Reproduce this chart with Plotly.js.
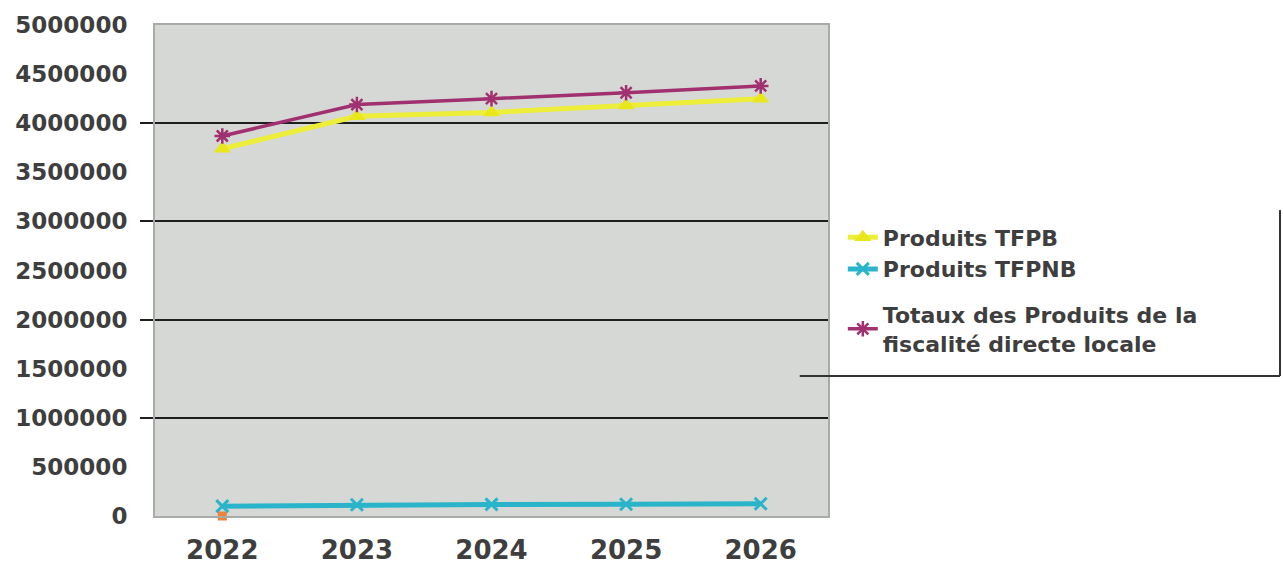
<!DOCTYPE html>
<html>
<head>
<meta charset="utf-8">
<script src="https://cdn.plot.ly/plotly-3.0.1.min.js"></script>
<style>
  html, body { margin: 0; padding: 0; background: #ffffff; }
  #chart { width: 1283px; height: 567px; }
</style>
</head>
<body>
<div id="chart"></div>
<script>
// Années
const years = ['2022', '2023', '2024', '2025', '2026'];

// Produits de la fiscalité directe locale (en euros)
const produitsTFPB = [3740000, 4070000, 4110000, 4180000, 4250000];
const produitsTFPNB = [100000, 115000, 118000, 120000, 125000];
const totauxProduits = [3870000, 4190000, 4250000, 4310000, 4380000];
const serieOrange = [0, null, null, null, null];

// Graduations de l'axe vertical
const yLabelVals = [0, 500000, 1000000, 1500000, 2000000, 2500000, 3000000, 3500000, 4000000, 4500000, 5000000];
const yGridVals = [1000000, 2000000, 3000000, 4000000];

const FONT = 'DejaVu Sans';
const TXT = '#3e3e3e';

const traces = [
  {
    x: years, y: serieOrange, name: '', yaxis: 'y', showlegend: false,
    type: 'scatter', mode: 'markers', cliponaxis: false,
    marker: { symbol: 'square', size: 9, color: '#f0803c' }
  },
  {
    x: years, y: produitsTFPB, name: 'Produits TFPB', yaxis: 'y2', legendgroup: 'a',
    type: 'scatter', mode: 'lines+markers',
    line: { color: '#ecee3a', width: 5 },
    marker: { symbol: 'triangle-up', size: 15, color: '#e9e61c' }
  },
  {
    x: years, y: produitsTFPNB, name: 'Produits TFPNB', yaxis: 'y2', legendgroup: 'a',
    type: 'scatter', mode: 'lines+markers',
    line: { color: '#2ab4c9', width: 5 },
    marker: { symbol: 'x-thin-open', size: 12, line: { color: '#2ab4c9', width: 3 } }
  },
  {
    x: years, y: totauxProduits, name: 'Totaux des Produits de la<br>fiscalité directe locale', yaxis: 'y2', legendgroup: 'b',
    type: 'scatter', mode: 'lines+markers',
    line: { color: '#a0306f', width: 3.5 },
    marker: { symbol: 'asterisk-open', size: 13, line: { color: '#a0306f', width: 2.5 } }
  }
];

const layout = {
  width: 1283, height: 567,
  margin: { l: 155, r: 455, t: 25, b: 51 },
  paper_bgcolor: '#ffffff',
  plot_bgcolor: '#d6d8d5',
  showlegend: true,
  font: { family: FONT, color: TXT },
  xaxis: {
    type: 'category', range: [-0.5, 4.5],
    showgrid: false, zeroline: false,
    showline: true, mirror: true, linecolor: '#a9aba8', linewidth: 2,
    ticks: 'outside', ticklen: 10, tickcolor: 'rgba(0,0,0,0)',
    tickfont: { family: FONT, size: 26, weight: 'bold', color: TXT }
  },
  // axe des lignes de quadrillage (tous les millions)
  yaxis: {
    type: 'linear', range: [0, 5000000], autorange: false,
    tickmode: 'array', tickvals: yGridVals, showticklabels: false,
    ticks: 'outside', ticklen: 13, tickwidth: 2, tickcolor: '#1e1e1e',
    showgrid: true, gridcolor: '#1e1e1e', gridwidth: 2,
    zeroline: false,
    showline: true, mirror: true, linecolor: '#a9aba8', linewidth: 2
  },
  // axe des valeurs (graduations tous les 500 000)
  yaxis2: {
    type: 'linear', overlaying: 'y', side: 'left',
    range: [0, 5000000], autorange: false,
    tickmode: 'array', tickvals: yLabelVals, tickformat: 'd',
    showgrid: false, zeroline: false, showline: false,
    ticks: 'outside', ticklen: 22, tickcolor: 'rgba(0,0,0,0)',
    tickfont: { family: FONT, size: 23, weight: 'bold', color: TXT }
  },
  legend: {
    x: 1.022, xanchor: 'left',
    y: 0.61, yanchor: 'top',
    bgcolor: 'rgba(0,0,0,0)', borderwidth: 0,
    tracegroupgap: 14,
    font: { family: FONT, size: 22, weight: 'bold', color: TXT }
  },
  shapes: [
    // cadre partiel de la légende
    { type: 'line', xref: 'paper', yref: 'paper', x0: 1.6716, x1: 1.6716, y0: 0.623, y1: 0.285,
      line: { color: '#333333', width: 2 } },
    { type: 'line', xref: 'paper', yref: 'paper', x0: 0.958, x1: 1.6716, y0: 0.285, y1: 0.285,
      line: { color: '#333333', width: 2 } }
  ]
};

Plotly.newPlot('chart', traces, layout, { displayModeBar: false, staticPlot: true });
</script>
</body>
</html>
